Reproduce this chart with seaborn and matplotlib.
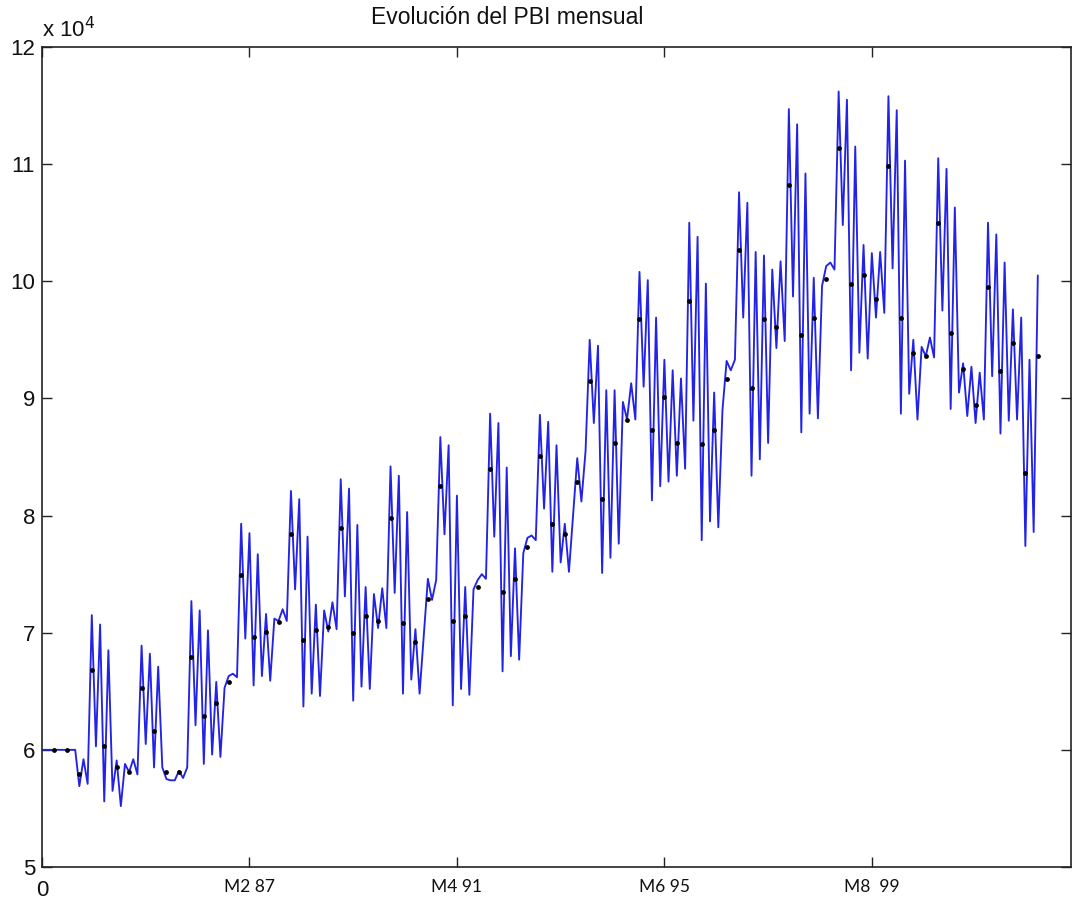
import matplotlib
matplotlib.use("Agg")
import matplotlib.pyplot as plt
import seaborn as sns
import pandas as pd

# Monthly GDP (units of 10^4), month index 0..240
meses = list(range(0, 241))
pbi_mensual = [
    6.00, 6.00, 6.00, 6.00, 6.00, 6.00, 6.00, 6.00, 6.00, 5.69,
    5.92, 5.71, 7.15, 6.03, 7.07, 5.56, 6.85, 5.65, 5.91, 5.52,
    5.88, 5.81, 5.92, 5.79, 6.89, 6.05, 6.82, 5.85, 6.71, 5.85,
    5.75, 5.74, 5.74, 5.82, 5.76, 5.85, 7.27, 6.21, 7.19, 5.88,
    7.02, 5.96, 6.58, 5.94, 6.53, 6.63, 6.65, 6.62, 7.93, 6.95,
    7.85, 6.55, 7.67, 6.63, 7.16, 6.59, 7.12, 7.10, 7.20, 7.10,
    8.21, 7.37, 8.14, 6.37, 7.82, 6.48, 7.24, 6.46, 7.19, 7.01,
    7.26, 7.03, 8.31, 7.31, 8.23, 6.42, 7.92, 6.54, 7.39, 6.52,
    7.33, 7.04, 7.38, 7.04, 8.42, 7.34, 8.34, 6.48, 8.03, 6.60,
    7.03, 6.48, 6.97, 7.46, 7.28, 7.45, 8.67, 7.84, 8.60, 6.38,
    8.17, 6.52, 7.39, 6.47, 7.37, 7.45, 7.50, 7.46, 8.87, 7.82,
    8.79, 6.67, 8.41, 6.80, 7.72, 6.77, 7.68, 7.81, 7.83, 7.79,
    8.86, 8.06, 8.80, 7.52, 8.60, 7.60, 7.93, 7.52, 8.01, 8.49,
    8.12, 8.55, 9.50, 8.79, 9.45, 7.51, 9.07, 7.64, 9.07, 7.76,
    8.97, 8.82, 9.13, 8.82, 10.08, 9.10, 10.01, 8.13, 9.69, 8.25,
    9.33, 8.29, 9.24, 8.34, 9.17, 8.40, 10.50, 8.81, 10.38, 7.79,
    9.98, 7.95, 9.05, 7.90, 8.90, 9.32, 9.24, 9.33, 10.76, 9.69,
    10.67, 8.34, 10.25, 8.48, 10.22, 8.62, 10.10, 9.43, 10.17, 9.49,
    11.47, 9.87, 11.34, 8.71, 10.92, 8.87, 10.03, 8.83, 9.96, 10.13,
    10.16, 10.10, 11.62, 10.48, 11.55, 9.24, 11.15, 9.39, 10.31, 9.34,
    10.24, 9.69, 10.25, 9.73, 11.58, 10.11, 11.46, 8.87, 11.03, 9.04,
    9.50, 8.82, 9.44, 9.36, 9.52, 9.35, 11.05, 9.75, 10.96, 8.91,
    10.63, 9.05, 9.30, 8.85, 9.27, 8.79, 9.22, 8.82, 10.50, 9.19,
    10.40, 8.70, 10.16, 8.81, 9.76, 8.82, 9.69, 7.74, 9.33, 7.86,
    10.05,
]

# Quarterly GDP points (units of 10^4), every 3rd month
trimestres = list(range(3, 241, 3))
pbi_trimestral = [
    6.00, 6.00, 5.79, 6.68, 6.03, 5.85, 5.81, 6.53, 6.16, 5.81,
    5.81, 6.79, 6.29, 6.40, 6.58, 7.49, 6.96, 7.01, 7.09, 7.84,
    6.94, 7.02, 7.05, 7.89, 7.00, 7.14, 7.10, 7.98, 7.08, 6.92,
    7.29, 8.25, 7.10, 7.14, 7.39, 8.40, 7.35, 7.46, 7.73, 8.51,
    7.93, 7.84, 8.29, 9.15, 8.14, 8.62, 8.82, 9.68, 8.73, 9.01,
    8.62, 9.83, 8.61, 8.73, 9.17, 10.27, 9.09, 9.68, 9.61, 10.82,
    9.54, 9.69, 10.02, 11.14, 9.98, 10.05, 9.85, 10.98, 9.69, 9.39,
    9.36, 10.50, 9.56, 9.25, 8.94, 9.95, 9.23, 9.47, 8.36, 9.36,
]

x_ticks = [0, 50, 100, 150, 200]
x_labels = ["0", "M2 87", "M4 91", "M6 95", "M8  99"]
y_ticks = [5, 6, 7, 8, 9, 10, 11, 12]

df_m = pd.DataFrame({"mes": meses, "pbi": pbi_mensual})
df_q = pd.DataFrame({"mes": trimestres, "pbi": pbi_trimestral})

sns.set_style("white")
plt.rcParams["font.family"] = ["Liberation Sans", "DejaVu Sans"]

W, H = 1073, 899
fig = plt.figure(figsize=(W / 100, H / 100), dpi=100)
ax = fig.add_axes([42 / W, (H - 867) / H, (1071 - 42) / W, (867 - 47) / H])

sns.lineplot(data=df_m, x="mes", y="pbi", ax=ax, color="#2323e6",
             linewidth=1.35, estimator=None, sort=False)
sns.scatterplot(data=df_q, x="mes", y="pbi", ax=ax, color="black",
                s=12, linewidth=0, zorder=3)

ax.set_xlim(0, 248)
ax.set_ylim(5, 12)
ax.set_xlabel("")
ax.set_ylabel("")

ax.set_yticks(y_ticks)
ax.set_yticklabels([str(v) for v in y_ticks], fontsize=16)
ax.set_xticks(x_ticks)
ax.set_xticklabels(x_labels)
for i, lab in enumerate(ax.get_xticklabels()):
    if i == 0:
        lab.set_fontsize(16)
        lab.set_family(["Liberation Sans", "DejaVu Sans"])
    else:
        lab.set_fontsize(12.5)
        lab.set_family(["Lato", "DejaVu Sans"])

ax.tick_params(axis="both", which="both", direction="in", length=7, width=1,
               colors="#222222", top=True, right=True, bottom=True, left=True)
ax.tick_params(axis="x", labelcolor="#111111", pad=9)
ax.tick_params(axis="y", labelcolor="#111111", pad=5)

for side in ["left", "right", "top", "bottom"]:
    ax.spines[side].set_visible(True)
    ax.spines[side].set_color("#222222")
    ax.spines[side].set_linewidth(1.2)

fig.text(507 / W, 1 - 18 / H, "Evolución del PBI mensual", ha="center",
         va="center", fontsize=16.5, color="#111111")
fig.text(42 / W, 1 - 37 / H, r"x 10$^{4}$", ha="left", va="baseline",
         fontsize=16, color="#111111")

fig.savefig("out.png", dpi=100, facecolor="white")
